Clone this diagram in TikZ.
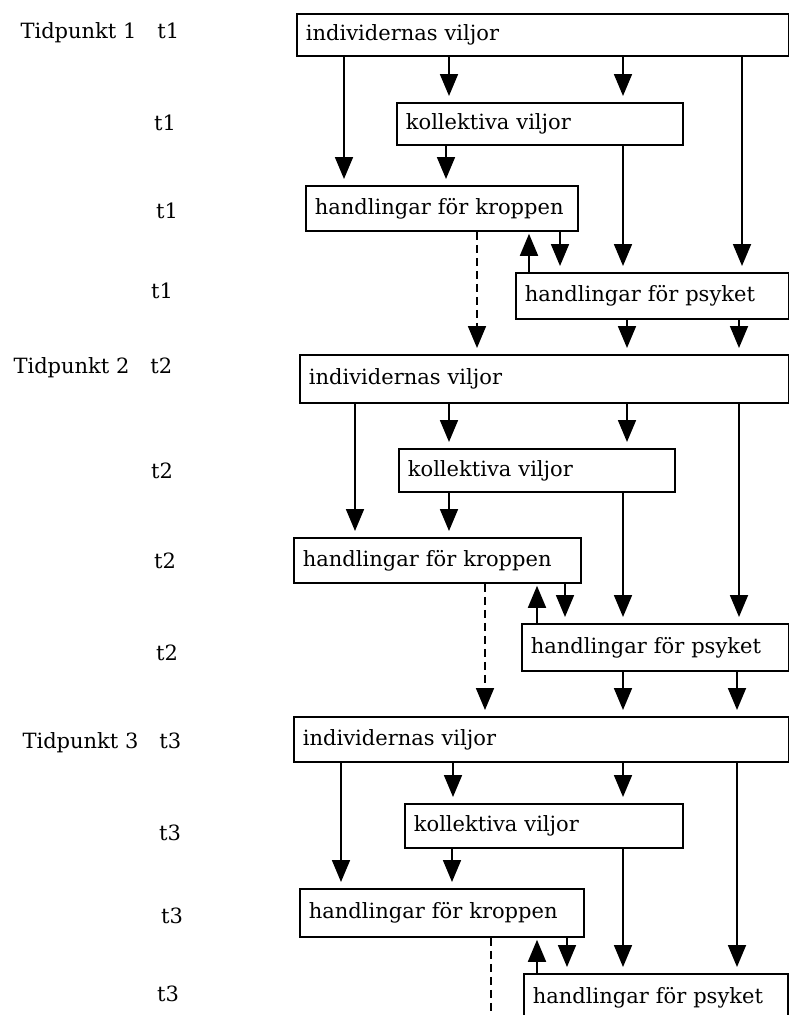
\documentclass[tikz,border=0pt]{standalone}
\usepackage{fontspec}
\setmainfont{DejaVu Serif}
\usetikzlibrary{arrows.meta}

\begin{document}
\begin{tikzpicture}[x=1pt,y=-1pt,
		font=\fontsize{21}{25}\selectfont,
		box/.style={draw,line width=1.8pt,anchor=north west,inner xsep=9pt,align=left},
		arr/.style={line width=1.8pt,-{Triangle[width=18pt,length=22pt]},shorten >=6pt},
		back/.style={arr,shorten >=2pt},
		weak/.style={arr,dash pattern=on 8pt off 5pt}]

		\useasboundingbox (0,0) rectangle (789,1015);
		\clip (0,0) rectangle (789,1015);

		% tidpunkt 1
		\node[anchor=west] (tp1) at (17,33) {Tidpunkt 1\quad t1};
		\node (t1b) at (165,123) {t1};
		\node (t1c) at (167,211) {t1};
		\node (t1d) at (162,291) {t1};

		\node[box,text width=474pt,minimum height=42pt] (ind1) at (296,13) {individernas viljor};
		\node[box,text width=268pt,minimum height=42pt] (kol1) at (396,102) {kollektiva viljor};
		\node[box,text width=254pt,minimum height=45pt] (kro1) at (305,185) {handlingar för kroppen};
		\node[box,text width=255pt,minimum height=46pt] (psy1) at (515,272) {handlingar för psyket};

		\draw[arr] (344,0 |- ind1.south) -- (344,0 |- kro1.north);
		\foreach \x in {449,623}
			\draw[arr] (\x,0 |- ind1.south) -- (\x,0 |- kol1.north);
		\draw[arr] (742,0 |- ind1.south) -- (742,0 |- psy1.north);
		\draw[arr] (446,0 |- kol1.south) -- (446,0 |- kro1.north);
		\draw[arr] (623,0 |- kol1.south) -- (623,0 |- psy1.north);
		\draw[arr] (560,0 |- kro1.south) -- (560,0 |- psy1.north);
		\draw[back] (529,0 |- psy1.north) -- (529,0 |- kro1.south);

		% tidpunkt 2
		\node[anchor=west] (tp2) at (10,368) {Tidpunkt 2\quad t2};
		\node (t2b) at (162,471) {t2};
		\node (t2c) at (165,561) {t2};
		\node (t2d) at (167,653) {t2};

		\node[box,text width=471pt,minimum height=48pt] (ind2) at (299,354) {individernas viljor};
		\node[box,text width=258pt,minimum height=43pt] (kol2) at (398,448) {kollektiva viljor};
		\node[box,text width=269pt,minimum height=45pt] (kro2) at (293,537) {handlingar för kroppen};
		\node[box,text width=249pt,minimum height=47pt] (psy2) at (521,623) {handlingar för psyket};

		\draw[weak] (477,0 |- kro1.south) -- (477,0 |- ind2.north);
		\foreach \x in {627,739}
			\draw[arr] (\x,0 |- psy1.south) -- (\x,0 |- ind2.north);

		\draw[arr] (355,0 |- ind2.south) -- (355,0 |- kro2.north);
		\foreach \x in {449,627}
			\draw[arr] (\x,0 |- ind2.south) -- (\x,0 |- kol2.north);
		\draw[arr] (739,0 |- ind2.south) -- (739,0 |- psy2.north);
		\draw[arr] (449,0 |- kol2.south) -- (449,0 |- kro2.north);
		\draw[arr] (623,0 |- kol2.south) -- (623,0 |- psy2.north);
		\draw[arr] (565,0 |- kro2.south) -- (565,0 |- psy2.north);
		\draw[back] (537,0 |- psy2.north) -- (537,0 |- kro2.south);

		% tidpunkt 3
		\node[anchor=west] (tp3) at (19,743) {Tidpunkt 3\quad t3};
		\node (t3b) at (170,833) {t3};
		\node (t3c) at (172,916) {t3};
		\node (t3d) at (168,994) {t3};

		\node[box,text width=477pt,minimum height=45pt] (ind3) at (293,716) {individernas viljor};
		\node[box,text width=260pt,minimum height=44pt] (kol3) at (404,803) {kollektiva viljor};
		\node[box,text width=266pt,minimum height=48pt] (kro3) at (299,888) {handlingar för kroppen};
		\node[box,text width=246pt,minimum height=47pt] (psy3) at (523,973) {handlingar för psyket};

		\draw[weak] (485,0 |- kro2.south) -- (485,0 |- ind3.north);
		\foreach \x in {623,737}
			\draw[arr] (\x,0 |- psy2.south) -- (\x,0 |- ind3.north);

		\draw[arr] (341,0 |- ind3.south) -- (341,0 |- kro3.north);
		\foreach \x in {453,623}
			\draw[arr] (\x,0 |- ind3.south) -- (\x,0 |- kol3.north);
		\draw[arr] (737,0 |- ind3.south) -- (737,0 |- psy3.north);
		\draw[arr] (452,0 |- kol3.south) -- (452,0 |- kro3.north);
		\draw[arr] (623,0 |- kol3.south) -- (623,0 |- psy3.north);
		\draw[arr] (567,0 |- kro3.south) -- (567,0 |- psy3.north);
		\draw[back] (537,0 |- psy3.north) -- (537,0 |- kro3.south);
		\draw[line width=1.8pt,dash pattern=on 8pt off 5pt] (491,0 |- kro3.south) -- (491,0 |- psy3.south);

\end{tikzpicture}
\end{document}
